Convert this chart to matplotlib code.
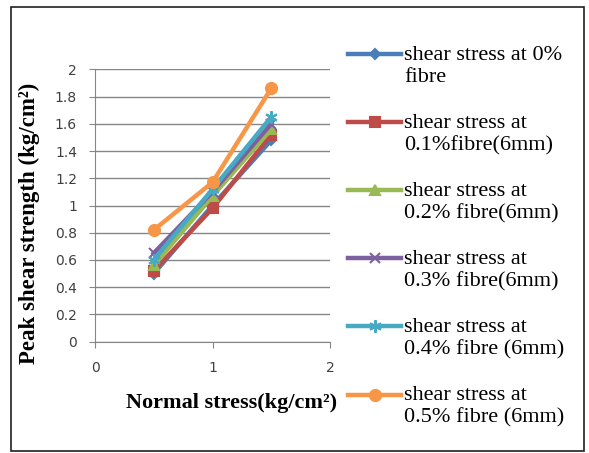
import numpy as np
import matplotlib.pyplot as plt
from matplotlib.patches import Rectangle

# normal stress (kg/cm2) and peak shear strength for each fibre content
normal_stress = [0.5, 1.0, 1.5]
shear_0 = [0.50, 1.00, 1.48]
shear_01 = [0.52, 0.98, 1.52]
shear_02 = [0.56, 1.07, 1.56]
shear_03 = [0.65, 1.10, 1.60]
shear_04 = [0.60, 1.12, 1.65]
shear_05 = [0.82, 1.17, 1.86]

labels = ['shear stress at 0%\nfibre',
          'shear stress at\n0.1%fibre(6mm)',
          'shear stress at\n0.2% fibre(6mm)',
          'shear stress at\n0.3% fibre(6mm)',
          'shear stress at\n0.4% fibre (6mm)',
          'shear stress at\n0.5% fibre (6mm)']
colors = ['#4A7EBB', '#BE4B48', '#98B954', '#7D60A0', '#46AAC5', '#F79646']
markers = ['D', 's', '^', 'x', (6, 2, 0), 'o']
sizes = [5, 6.5, 7, 7, 9, 8]
series = [shear_0, shear_01, shear_02, shear_03, shear_04, shear_05]

fig = plt.figure(figsize=(5.89, 4.53), dpi=100)
ax = fig.add_axes([95/589, 1-341.7/453, 235/589, 272.4/453])

for ys, lab, c, m, s in zip(series, labels, colors, markers, sizes):
    ax.plot(normal_stress, ys, color=c, marker=m, markersize=s, lw=3.2,
            markeredgewidth=1.5, label=lab)

ax.set_xlim(0, 2)
ax.set_ylim(0, 2)
ax.set_xticks([0, 1, 2])
ax.set_yticks(np.arange(0, 2.01, 0.2))
ax.set_yticklabels(['0', '0.2', '0.4', '0.6', '0.8', '1', '1.2', '1.4', '1.6', '1.8', '2'])
ax.grid(axis='y', color='#868686', lw=1)
ax.set_axisbelow(True)
for side in ['top', 'right']:
    ax.spines[side].set_visible(False)
for side in ['left', 'bottom']:
    ax.spines[side].set_color('#868686')
ax.tick_params(direction='out', length=4, color='#868686', labelsize=10,
               labelcolor='#404040')
ax.tick_params(axis='y', pad=9)
ax.tick_params(axis='x', pad=10)

ax.set_xlabel('Normal stress(kg/cm²)', family='Liberation Serif',
              fontweight='bold', fontsize=16)
ax.xaxis.set_label_coords(0.58, -0.19)
ax.set_ylabel('Peak shear strength (kg/cm²)', family='Liberation Serif',
              fontweight='bold', fontsize=16.5)
ax.yaxis.set_label_coords(-0.234, 0.434)

leg = ax.legend(loc='upper left', bbox_to_anchor=(328/589, 1-26/453),
                bbox_transform=fig.transFigure, frameon=False, numpoints=1,
                prop={'family': 'Liberation Serif', 'size': 16},
                handlelength=2.4, handletextpad=0.13, labelspacing=1.21)
# put each legend key level with the first line of its label
for line in leg.get_lines():
    line.set_ydata(np.asarray(line.get_ydata()) + 8.4)

fig.add_artist(Rectangle((11/589, 2/453), 573/589, 444/453, transform=fig.transFigure,
                         fill=False, edgecolor='#202020', lw=1.2))

fig.savefig('out.png', dpi=100)
